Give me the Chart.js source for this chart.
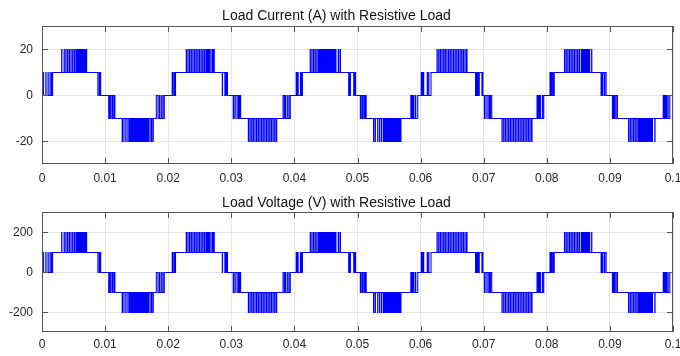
<!DOCTYPE html>
<html>
<head>
<meta charset="utf-8">
<script src="https://cdn.jsdelivr.net/npm/chart.js@4/dist/chart.umd.min.js"></script>
<style>
  html, body { margin: 0; padding: 0; background: #fff; }
  #wrap { position: relative; width: 680px; height: 356px; }
  canvas { position: absolute; left: 0; display: block; }
</style>
</head>
<body>
<div id="wrap">
  <canvas id="currentChart" width="680" height="190" style="top:0"></canvas>
  <canvas id="voltageChart" width="680" height="166" style="top:190px"></canvas>
</div>
<script>
// x axis in milliseconds, labelled in seconds
var xTickValues = [0, 10, 20, 30, 40, 50, 60, 70, 80, 90, 100];
var xTickLabels = ['0', '0.01', '0.02', '0.03', '0.04', '0.05', '0.06', '0.07', '0.08', '0.09', '0.1'];

var currentTicks = [-20, 0, 20];
var currentRange = [-30, 30];
var voltageTicks = [-200, 0, 200];
var voltageRange = [-300, 300];

// output levels, index 0..4 = level -2..+2
var currentLevels = [-20, -10, 0, 10, 20];
var voltageLevels = [-200, -100, 0, 100, 200];

// each band: [base level, pulse level] ; toggles switch between them
var bandLevels = [[0, 1], [1, 2], [1, 0], [0, -1], [-1, -2], [-1, 0]];

// switching instants (ms), one list per band
var cycle1 = [
  [0, 0.25, 0.6, 0.64, 0.95, 0.99, 1.27, 1.31, 1.52, 1.58, 1.68],
  [3.11, 3.15, 3.5, 3.54, 3.77, 3.81, 4.04, 4.08, 4.31, 4.35, 4.58, 4.62, 4.85, 4.89, 5.12, 5.16,
   5.38, 5.47, 5.56, 5.65, 5.74, 5.83, 5.92, 6.01, 6.1, 6.19, 6.28, 6.37, 6.46, 6.55, 6.64, 6.73,
   6.82, 6.91, 7.0, 7.08],
  [8.85, 8.89, 9.1, 9.14, 9.3],
  [10.57, 10.72, 10.9, 10.94, 11.16, 11.2, 11.4, 11.44, 11.55],
  [12.7, 12.86, 13.15, 13.19, 13.45, 13.49,
   13.75, 13.84, 13.93, 14.02, 14.11, 14.2, 14.29, 14.38, 14.47, 14.56, 14.65, 14.74, 14.83, 14.92,
   15.01, 15.1, 15.19, 15.28, 15.37, 15.46, 15.55, 15.64, 15.73, 15.82, 15.91, 16.0, 16.09, 16.18,
   16.27, 16.36, 16.45, 16.54, 16.63, 16.72, 16.81, 16.87,
   17.1, 17.14, 17.36, 17.4, 17.6, 17.64],
  [18.12, 18.38, 18.6, 18.64, 18.88, 18.92, 19.15, 19.19, 19.38]
];
var cycle2 = [
  [20.63, 20.76, 20.96, 21.0, 21.16],
  [22.86, 22.9, 23.12, 23.16, 23.38, 23.42, 23.64, 23.68, 23.9, 23.94, 24.16, 24.2, 24.42, 24.46,
   24.68, 24.72, 24.94, 24.98, 25.2, 25.24, 25.46, 25.5, 25.72, 25.76, 25.98, 26.07, 26.16, 26.25,
   26.34, 26.43, 26.5, 26.54, 26.76, 26.8, 27.02, 27.06, 27.22, 27.3],
  [28.57, 28.61, 28.98, 29.1, 29.2, 29.3, 29.4],
  [30.3, 30.45, 30.7, 30.74, 31.02, 31.12, 31.25, 31.35, 31.48],
  [32.7, 32.74, 32.96, 33.0, 33.22, 33.26, 33.48, 33.52, 33.74, 33.78, 34.0, 34.04, 34.26, 34.3,
   34.52, 34.56, 34.78, 34.82, 35.04, 35.08, 35.3, 35.34, 35.56, 35.6, 35.82, 35.86, 36.08, 36.12,
   36.34, 36.38, 36.6, 36.64, 36.86, 36.9, 37.12, 37.2],
  [38.2, 38.4, 38.55, 38.59, 38.85, 38.89, 39.12, 39.16, 39.35]
];
var cycle3 = [
  [40.28, 40.42, 40.5, 40.6, 40.95, 40.99, 41.12, 41.16, 41.27],
  [42.5, 42.54, 42.76, 42.8, 43.02, 43.06, 43.28, 43.32, 43.54, 43.58,
   43.8, 43.89, 43.98, 44.07, 44.16, 44.25, 44.34, 44.43, 44.52, 44.61, 44.7, 44.79, 44.88, 44.97,
   45.06, 45.15, 45.24, 45.33, 45.42, 45.51, 45.6, 45.69, 45.78, 45.87, 45.96, 46.05, 46.14, 46.23,
   46.32, 46.41, 46.5, 46.59,
   46.95, 46.99, 47.22, 47.3],
  [48.6, 48.7, 48.78, 48.88, 49.4, 49.5, 49.58, 49.66, 49.7],
  [50.45, 50.55, 50.75, 50.79, 51.0, 51.1, 51.22, 51.26, 51.38],
  [52.54, 52.58, 52.8, 52.84, 53.2, 53.24, 53.5, 53.54, 53.8, 53.84,
   54.1, 54.19, 54.28, 54.37, 54.46, 54.55, 54.64, 54.73, 54.82, 54.91, 55.0, 55.09, 55.18, 55.27,
   55.36, 55.45, 55.54, 55.63, 55.72, 55.81, 55.9, 55.99, 56.08, 56.17, 56.26, 56.35, 56.44, 56.53,
   56.62, 56.71, 56.8, 56.89],
  [58.45, 58.58, 58.66, 58.78, 58.86, 58.95, 59.2, 59.24, 59.55]
];
var cycle4 = [
  [60.1, 60.25, 60.35, 60.5, 61.05, 61.09, 61.28, 61.32, 61.65],
  [62.6, 62.64, 62.86, 62.9, 63.12, 63.16, 63.38, 63.42, 63.64, 63.68, 63.9, 63.94, 64.16, 64.2,
   64.42, 64.46, 64.68, 64.72, 64.94, 64.98, 65.2, 65.24, 65.46, 65.5, 65.72, 65.76, 65.98, 66.02,
   66.24, 66.28, 66.5, 66.54, 66.76, 66.8, 67.02, 67.06, 67.28, 67.36],
  [68.7, 68.8, 68.87, 68.97, 69.05, 69.15, 69.22, 69.3, 69.72, 69.76, 69.88],
  [70.1, 70.22, 70.5, 70.54, 70.8, 70.9, 71.05, 71.09, 71.28],
  [72.9, 72.94, 73.16, 73.2, 73.42, 73.46, 73.68, 73.72, 73.94, 73.98, 74.2, 74.24, 74.46, 74.5,
   74.72, 74.76, 74.98, 75.02, 75.24, 75.28, 75.5, 75.54, 75.76, 75.8, 76.02, 76.06, 76.28, 76.32,
   76.54, 76.58, 76.8, 76.84, 77.06, 77.1, 77.32, 77.36, 77.58, 77.66],
  [78.45, 78.58, 78.66, 78.79, 78.87, 79.0, 79.3, 79.34, 79.52]
];
var cycle5 = [
  [80.5, 80.62, 80.7, 80.82, 81.0, 81.04, 81.18],
  [82.8, 82.84, 83.06, 83.1, 83.32, 83.36, 83.58, 83.62, 83.84, 83.88, 84.1, 84.14, 84.36, 84.4,
   84.62, 84.66, 84.88, 84.92, 85.14, 85.18,
   85.45, 85.54, 85.63, 85.72, 85.81, 85.9, 85.99, 86.08, 86.17, 86.26, 86.35, 86.44, 86.53, 86.62,
   86.71, 86.8, 87.1, 87.14],
  [88.6, 88.7, 88.78, 88.9, 89.15, 89.19, 89.4],
  [90.4, 90.55, 90.65, 90.75, 90.95, 90.99, 91.2],
  [92.95, 92.99, 93.21, 93.25, 93.47, 93.51, 93.73, 93.77, 93.99, 94.03, 94.25, 94.29,
   94.5, 94.59, 94.68, 94.77, 94.86, 94.95, 95.04, 95.13, 95.22, 95.31, 95.4, 95.49, 95.58, 95.67,
   95.76, 95.85, 95.94, 96.03, 96.12, 96.21, 96.3, 96.39, 96.48, 96.57, 96.66, 96.75,
   97.12, 97.16],
  [98.45, 98.6, 98.68, 98.8, 98.9, 99.0, 99.2, 99.24, 99.5]
];
var cycles = [cycle1, cycle2, cycle3, cycle4, cycle5];

var fontFamily = "'Liberation Sans', Arial, Helvetica, sans-serif";
var textColor = '#262626';

function buildSeries(levels) {
    var pts = [{ x: 0, y: levels[2] }];
    var c, k, i, lv;
    for (c = 0; c < cycles.length; c++) {
        for (k = 0; k < cycles[c].length; k++) {
            var band = cycles[c][k];
            for (i = 0; i < band.length; i++) {
                lv = (i % 2 === 0) ? bandLevels[k][1] : bandLevels[k][0];
                pts.push({ x: band[i], y: levels[lv + 2] });
            }
        }
    }
    pts.push({ x: 100, y: levels[2] });
    return pts;
}

// MATLAB style box with inward ticks on all four sides
var boxPlugin = {
    id: 'box',
    afterDraw: function (chart) {
        var ctx = chart.ctx;
        var a = chart.chartArea;
        var xs = chart.scales.x;
        var ys = chart.scales.y;
        var len = 6;
        var l = Math.floor(a.left), t = Math.floor(a.top), r = Math.floor(a.right), b = Math.floor(a.bottom);
        ctx.save();
        ctx.strokeStyle = '#555';
        ctx.lineWidth = 1;
        ctx.beginPath();
        xs.ticks.forEach(function (tk) {
            var px = Math.round(xs.getPixelForValue(tk.value)) + 0.5;
            ctx.moveTo(px, b); ctx.lineTo(px, b - len);
            ctx.moveTo(px, t); ctx.lineTo(px, t + len);
        });
        ys.ticks.forEach(function (tk) {
            var py = Math.floor(ys.getPixelForValue(tk.value)) + 0.5;
            ctx.moveTo(l, py); ctx.lineTo(l + len, py);
            ctx.moveTo(r, py); ctx.lineTo(r - len, py);
        });
        ctx.stroke();
        ctx.strokeRect(l + 0.5, t + 0.5, r - l - 1, b - t - 1);
        ctx.restore();
    }
};

function makeChart(id, title, levels, yTicks, yRange, titlePad, xAxisHeight, xPad) {
    return new Chart(document.getElementById(id), {
        type: 'line',
        data: {
            datasets: [{
                data: buildSeries(levels),
                borderColor: '#0000ff',
                borderWidth: 1.05,
                pointRadius: 0,
                fill: false,
                stepped: true
            }]
        },
        options: {
            responsive: false,
            animation: false,
            layout: { padding: { left: 0, right: 7, top: 0, bottom: 0 } },
            plugins: {
                legend: { display: false },
                tooltip: { enabled: false },
                title: {
                    display: true,
                    text: title,
                    color: '#111',
                    font: { family: fontFamily, size: 14, weight: 'normal' },
                    padding: titlePad
                }
            },
            scales: {
                x: {
                    type: 'linear',
                    min: 0,
                    max: 100,
                    afterBuildTicks: function (scale) {
                        scale.ticks = xTickValues.map(function (v) { return { value: v }; });
                    },
                    afterFit: function (scale) {
                        scale.height = xAxisHeight;
                        scale.paddingLeft = 0;
                        scale.paddingRight = 0;
                    },
                    ticks: {
                        autoSkip: false,
                        maxRotation: 0,
                        padding: xPad,
                        color: textColor,
                        font: { family: fontFamily, size: 12 },
                        callback: function (v, i) { return xTickLabels[i]; }
                    },
                    grid: { color: '#e6e6e6', drawTicks: false },
                    border: { display: false }
                },
                y: {
                    min: yRange[0],
                    max: yRange[1],
                    afterBuildTicks: function (scale) {
                        scale.ticks = yTicks.map(function (v) { return { value: v }; });
                    },
                    afterFit: function (scale) {
                        scale.width = 42;
                    },
                    ticks: {
                        padding: 9,
                        color: textColor,
                        font: { family: fontFamily, size: 12 },
                        callback: function (v) { return String(v); }
                    },
                    grid: { color: '#e6e6e6', drawTicks: false },
                    border: { display: false }
                }
            }
        },
        plugins: [boxPlugin]
    });
}

makeChart('currentChart', 'Load Current (A) with Resistive Load', currentLevels,
    currentTicks, currentRange, { top: 8, bottom: 1.7 }, 25.5, 7);
makeChart('voltageChart', 'Load Voltage (V) with Resistive Load', voltageLevels,
    voltageTicks, voltageRange, { top: 5, bottom: 0.7 }, 23.5, 4.5);
</script>
</body>
</html>
